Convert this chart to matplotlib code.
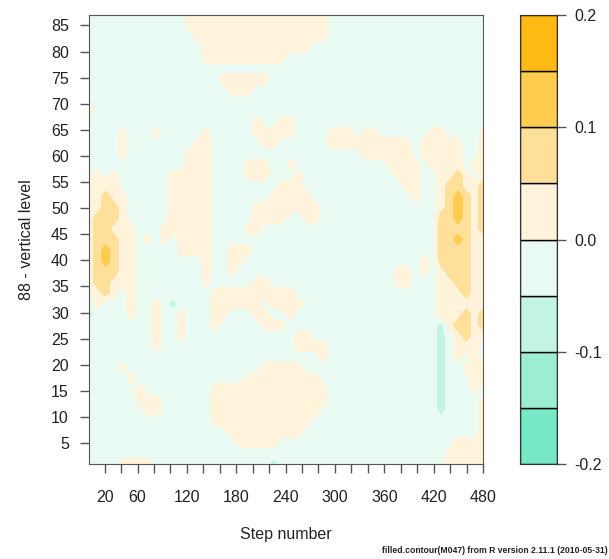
import numpy as np
import matplotlib.pyplot as plt

plt.rcParams['font.family'] = ['Liberation Sans', 'DejaVu Sans']

# contour bands and their fill colours (bottom to top of the key)
levels = [-0.2, -0.15, -0.1, -0.05, 0.0, 0.05, 0.1, 0.15, 0.2]
band_colors = ['#76E8C6', '#9DEDD5', '#C2F3E4', '#E9FAF3',
               '#FFF3DC', '#FFE09B', '#FFCC4F', '#FFB914']
key_ticks = [-0.2, -0.1, 0.0, 0.1, 0.2]

# value for each letter of the picture grid
code_values = {'.': -0.025, 'o': 0.025, 'a': 0.075, 'A': 0.125, 'g': -0.075}

# grid: 48 step columns x 43 level rows (86 .. 2)
n_steps = 48
row_levels = list(range(86, 0, -2))
patches = [
    (86, 12, 'o' * 17), (84, 12, 'o' * 17), (82, 13, 'o' * 16),
    (80, 14, 'o' * 13), (78, 14, 'o' * 10),
    (74, 16, 'oooooo'), (72, 17, 'ooo'),
    (68, 0, 'o'),
    (66, 20, 'o'), (66, 23, 'oo'),
    (64, 4, 'o'), (64, 8, 'o'), (64, 14, 'o'), (64, 20, 'ooooo'), (64, 29, 'ooo'),
    (64, 33, 'oo'), (64, 41, 'oo'), (64, 47, 'o'),
    (62, 4, 'o'), (62, 13, 'oo'), (62, 21, 'oo'), (62, 29, 'o' * 10),
    (62, 40, 'ooooo'), (62, 47, 'o'),
    (60, 4, 'o'), (60, 12, 'ooo'), (60, 33, 'oooooo'), (60, 40, 'ooooo'), (60, 47, 'o'),
    (58, 12, 'ooo'), (58, 19, 'ooo'), (58, 24, 'o'), (58, 36, 'oooo'),
    (58, 41, 'oooo'), (58, 46, 'oo'),
    (56, 1, 'o.o'), (56, 10, 'ooooo'), (56, 19, 'ooo'), (56, 25, 'o'),
    (56, 37, 'ooo'), (56, 42, 'ooao.o'),
    (54, 0, 'oooo'), (54, 10, 'ooooo'), (54, 23, 'ooo'), (54, 38, 'oo'), (54, 42, 'oaaooa'),
    (52, 0, 'ooaoo'), (52, 10, 'ooooo'), (52, 22, 'ooooo'), (52, 39, 'o'), (52, 42, 'oaAaoa'),
    (50, 0, 'ooaao'), (50, 10, 'ooooo'), (50, 20, 'o' * 8), (50, 42, 'oaAaoa'),
    (48, 0, 'oaaao'), (48, 10, 'ooooo'), (48, 20, 'oooo'),
    (48, 26, 'oo'), (48, 42, 'aaAaoa'),
    (46, 0, 'oaaoo'), (46, 5, 'o...o'), (46, 10, 'ooooo'), (46, 19, 'oo'), (46, 42, 'aaaaoa'),
    (44, 0, 'oaaaoo.o.o'), (44, 11, 'oooo'), (44, 42, 'aaAaoo'),
    (42, 0, 'oaAaoo'), (42, 11, 'oooo'), (42, 17, 'ooo'), (42, 42, 'aaaaoo'),
    (40, 0, 'oaAaoo'), (40, 14, 'o'), (40, 17, 'oo'), (40, 40, 'o'), (40, 42, 'aaaaoo'),
    (38, 0, 'oaaaoo'), (38, 14, 'o'), (38, 17, 'o'), (38, 37, 'oo'), (38, 40, 'o'),
    (38, 42, 'oaaaoo'),
    (36, 0, 'oaaooo'), (36, 14, 'o'), (36, 20, 'oo'), (36, 37, 'oo'), (36, 42, 'ooaaoo'),
    (34, 1, 'oao'), (34, 5, 'o'), (34, 15, 'o' * 10), (34, 42, 'oooaoo'),
    (32, 1, 'o'), (32, 5, 'o'), (32, 8, 'o.g.'), (32, 15, 'o' * 6), (32, 22, 'oooo'),
    (32, 42, 'oooooo'),
    (30, 0, 'g'), (30, 5, 'o'), (30, 8, 'o..o'), (30, 15, 'oo'), (30, 20, 'oo'),
    (30, 24, 'o'), (30, 42, 'oooaoa'),
    (28, 8, 'o'), (28, 11, 'o'), (28, 15, 'o'), (28, 21, 'ooo'), (28, 42, 'goaaoa'),
    (26, 8, 'o'), (26, 11, 'o'), (26, 25, 'oo'), (26, 42, 'g.oaoo'),
    (24, 8, 'o'), (24, 25, 'oooo'), (24, 42, 'g.ooo'),
    (22, 28, 'o'), (22, 42, 'g'), (22, 44, 'o'), (22, 46, 'o'),
    (20, 4, 'o'), (20, 21, 'ooooo'), (20, 42, 'g'), (20, 45, 'ooo'),
    (18, 5, 'o'), (18, 19, 'o' * 9), (18, 42, 'g'), (18, 46, 'oo'),
    (16, 6, 'o'), (16, 15, 'o' * 14), (16, 42, 'g'), (16, 46, 'o'),
    (14, 6, 'ooo'), (14, 15, 'o' * 14), (14, 42, 'g'), (14, 47, 'o'),
    (12, 7, 'oo'), (12, 15, 'o' * 13), (12, 42, 'g'), (12, 47, 'o'),
    (10, 15, 'o' * 12), (10, 47, 'o'),
    (8, 17, 'o' * 9), (8, 47, 'o'),
    (6, 18, 'ooooo'), (6, 44, 'oooo'),
    (4, 43, 'ooooo'),
    (2, 4, 'oooo'), (2, 22, 'g'), (2, 43, 'ooooo'),
]

x_ticks = list(range(20, 481, 20))
x_labels = [20, 60, 120, 180, 240, 300, 360, 420, 480]
y_ticks = list(range(5, 86, 5))

z = np.full((len(row_levels), n_steps), code_values['.'])
for lev, c0, s in patches:
    i = row_levels.index(lev)
    for k, ch in enumerate(s):
        z[i, c0 + k] = code_values[ch]

steps = np.linspace(1, 480, n_steps)
vert = np.linspace(87, 1, len(row_levels))

fig = plt.figure(figsize=(6.09, 5.59), dpi=100)
ax = fig.add_axes([89 / 609, 95 / 559, 394 / 609, 449 / 559])
cax = fig.add_axes([520 / 609, 95 / 559, 37 / 609, 449 / 559])

ax.contourf(steps, vert, z, levels=levels, colors=band_colors)
ax.set_xlim(1, 480)
ax.set_ylim(1, 87)

frame = '#555555'
for sp in ax.spines.values():
    sp.set_color(frame)
ax.set_xticks(x_ticks)
ax.set_xticklabels([str(t) if t in x_labels else '' for t in x_ticks])
ax.set_yticks(y_ticks)
ax.tick_params(axis='both', colors=frame, labelcolor='#222222', labelsize=11.5,
               length=6.5, width=1)
ax.tick_params(axis='x', pad=12)
ax.tick_params(axis='y', pad=8)
ax.set_xlabel('Step number', fontsize=11.5, labelpad=16, color='#222222')
ax.set_ylabel('88 - vertical level', fontsize=11.5, labelpad=12, color='#222222')

# colour key
cax.bar(0.5, np.diff(levels), width=1, bottom=levels[:-1], color=band_colors,
        edgecolor='black', linewidth=1)
cax.set_xlim(0, 1)
cax.set_ylim(levels[0], levels[-1])
cax.set_xticks([])
cax.yaxis.tick_right()
cax.set_yticks(key_ticks)
cax.set_yticklabels(['%.1f' % t for t in key_ticks])
cax.tick_params(axis='y', colors=frame, labelcolor='#222222', labelsize=11.5,
                length=6.5, width=1, pad=6)
for sp in cax.spines.values():
    sp.set_color('#333333')

fig.text(0.998, 0.008, 'filled.contour(M047) from R version 2.11.1 (2010-05-31)',
         ha='right', va='bottom', fontsize=6.2, fontweight='bold', color='#222222')

fig.savefig('out.png', dpi=100)
